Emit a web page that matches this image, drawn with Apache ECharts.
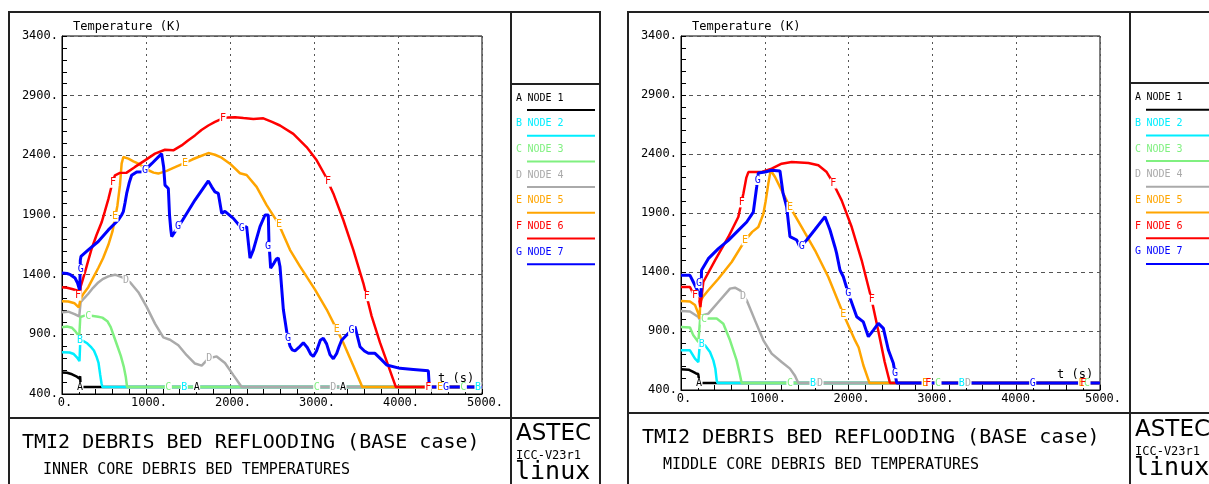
<!DOCTYPE html>
<html>
<head>
<meta charset="utf-8">
<script src="https://cdn.jsdelivr.net/npm/echarts@6/dist/echarts.min.js"></script>
<style>
html, body { margin: 0; padding: 0; background: #fff; }
#chart { width: 1209px; height: 484px; }
</style>
</head>
<body>
<div id="chart"></div>
<script>
// axes
const tMin = 0, tMax = 5000, tStep = 1000;
const tempMin = 400, tempMax = 3400, tempStep = 500;

const nodeLetters = ['A', 'B', 'C', 'D', 'E', 'F', 'G'];
const nodeNames = ['NODE 1', 'NODE 2', 'NODE 3', 'NODE 4', 'NODE 5', 'NODE 6', 'NODE 7'];
const nodeColors = ['#000000', '#00eeff', '#80f080', '#aaaaaa', '#ffa500', '#ff0000', '#0000ff'];

const titleText = 'TMI2 DEBRIS BED REFLOODING (BASE case)';
const subInner = 'INNER CORE DEBRIS BED TEMPERATURES';
const subMiddle = 'MIDDLE CORE DEBRIS BED TEMPERATURES';

// ---- inner core (left plot) ----
const inner1 = [[0,580],[60,578],[120,565],[170,548],[205,530],[212,522],[216,548],[222,458],[5000,458]];
const inner2 = [[0,750],[90,748],[140,735],[180,705],[208,675],[213,665],[218,850],[250,845],[300,825],[350,790],[380,765],[410,715],[435,660],[455,560],[470,490],[482,458],[5000,458]];
const inner3 = [[0,960],[60,965],[120,955],[160,925],[205,880],[213,870],[218,1045],[260,1055],[350,1055],[430,1047],[480,1040],[540,1010],[580,960],[620,880],[660,800],[700,720],[735,630],[760,540],[775,458],[5000,458]];
const inner4 = [[0,1085],[75,1090],[150,1070],[205,1050],[213,1045],[222,1170],[260,1200],[313,1240],[370,1290],[432,1335],[490,1365],[552,1386],[631,1400],[710,1380],[810,1336],[909,1253],[1008,1130],[1107,990],[1206,875],[1286,855],[1385,808],[1484,725],[1583,655],[1663,638],[1742,697],[1841,715],[1940,660],[2040,558],[2139,458],[5000,458]];
const inner5 = [[0,1178],[75,1175],[150,1160],[200,1125],[213,1110],[222,1200],[260,1245],[313,1295],[372,1375],[432,1456],[490,1540],[552,1650],[600,1760],[631,1872],[660,1980],[690,2150],[710,2331],[730,2386],[790,2372],[850,2350],[909,2331],[970,2300],[1028,2275],[1090,2255],[1147,2247],[1246,2270],[1360,2305],[1464,2336],[1550,2365],[1623,2386],[1742,2419],[1821,2405],[1900,2380],[2000,2330],[2119,2250],[2198,2235],[2317,2136],[2436,1983],[2575,1830],[2714,1608],[2833,1469],[3012,1275],[3151,1108],[3270,942],[3349,830],[3468,636],[3575,458],[5000,458]];
const inner6 = [[0,1294],[60,1290],[120,1280],[170,1270],[205,1261],[213,1215],[222,1300],[274,1422],[313,1520],[353,1617],[410,1730],[472,1839],[510,1930],[552,2033],[600,2170],[631,2233],[690,2253],[770,2255],[869,2303],[988,2358],[1107,2414],[1226,2447],[1325,2442],[1424,2483],[1500,2525],[1583,2567],[1660,2612],[1742,2650],[1821,2680],[1901,2706],[1980,2718],[2060,2719],[2160,2712],[2278,2705],[2397,2710],[2500,2680],[2595,2650],[2754,2580],[2912,2469],[3032,2358],[3131,2233],[3230,2081],[3349,1858],[3468,1608],[3587,1330],[3686,1053],[3786,830],[3885,636],[3975,458],[5000,458]];
const inner7 = [[0,1414],[60,1410],[100,1400],[155,1372],[185,1330],[202,1289],[212,1270],[218,1520],[226,1553],[313,1608],[432,1678],[552,1775],[671,1858],[710,1900],[730,1928],[750,2000],[770,2081],[800,2170],[829,2233],[889,2261],[968,2263],[1067,2330],[1186,2414],[1200,2420],[1210,2303],[1226,2150],[1266,2122],[1280,1900],[1295,1780],[1306,1719],[1345,1761],[1424,1844],[1583,2025],[1742,2186],[1782,2136],[1821,2094],[1861,2081],[1901,1914],[1940,1930],[2040,1872],[2139,1789],[2198,1803],[2238,1539],[2278,1608],[2357,1803],[2417,1900],[2456,1900],[2464,1664],[2484,1455],[2524,1497],[2550,1530],[2575,1539],[2595,1469],[2635,1108],[2683,886],[2714,803],[2740,770],[2774,761],[2820,790],[2873,830],[2920,790],[2960,735],[2992,715],[3030,760],[3075,850],[3111,867],[3150,820],[3190,730],[3230,695],[3270,740],[3300,800],[3329,850],[3389,894],[3448,936],[3488,964],[3548,796],[3600,760],[3647,741],[3726,741],[3800,690],[3865,643],[4024,615],[4183,606],[4361,595],[4373,458],[5000,458]];

// letter marks drawn on the inner core curves
const innerMarks1 = [[214,458],[1603,458],[3345,458]];
const innerMarks2 = [[214,852],[1456,458],[4952,458]];
const innerMarks3 = [[313,1053],[1266,458],[3032,458],[4778,458]];
const innerMarks4 = [[762,1349],[1754,702],[3230,458]];
const innerMarks5 = [[631,1886],[1464,2336],[2583,1825],[3270,942],[4500,458]];
const innerMarks6 = [[190,1224],[607,2170],[1917,2710],[3167,2179],[3627,1220],[4360,458]];
const innerMarks7 = [[222,1447],[988,2270],[1381,1802],[2139,1789],[2452,1634],[2690,870],[3448,936],[4571,458]];

// ---- middle core (right plot) ----
const middle1 = [[0,575],[90,572],[140,555],[180,540],[205,535],[215,550],[222,459],[5000,459]];
const middle2 = [[0,736],[107,736],[167,665],[207,637],[215,635],[225,793],[286,779],[346,722],[386,651],[410,580],[426,482],[435,459],[5000,459]];
const middle3 = [[0,934],[107,930],[147,863],[207,807],[217,800],[227,990],[326,1005],[426,1005],[505,962],[585,821],[664,651],[700,540],[724,459],[5000,459]];
const middle4 = [[0,1069],[107,1065],[207,1019],[220,1000],[240,1030],[326,1047],[446,1146],[585,1259],[644,1267],[704,1245],[784,1160],[883,990],[983,821],[1082,708],[1201,637],[1300,581],[1360,520],[1400,459],[5000,459]];
const middle5 = [[0,1154],[107,1150],[167,1120],[207,1047],[222,1005],[230,1150],[260,1188],[326,1245],[446,1343],[605,1485],[764,1668],[850,1740],[923,1781],[960,1850],[983,1894],[1010,2000],[1042,2149],[1070,2262],[1122,2205],[1201,2092],[1300,1951],[1440,1781],[1599,1584],[1758,1358],[1937,1044],[2077,820],[2120,760],[2176,610],[2220,520],[2250,459],[5000,459]];
const middle6 = [[0,1273],[107,1273],[147,1216],[215,1174],[231,1103],[266,1315],[406,1499],[565,1697],[684,1866],[744,2064],[780,2200],[804,2247],[963,2247],[1082,2276],[1201,2318],[1321,2332],[1520,2324],[1639,2304],[1738,2247],[1798,2177],[1917,2007],[2037,1781],[2156,1499],[2275,1165],[2335,965],[2375,830],[2430,640],[2494,459],[5000,459]];
const middle7 = [[0,1372],[107,1372],[147,1315],[215,1216],[239,1188],[245,1414],[326,1513],[446,1598],[565,1668],[684,1753],[784,1824],[863,1908],[903,2120],[923,2239],[1003,2247],[1082,2262],[1181,2256],[1217,2070],[1261,1953],[1300,1700],[1381,1671],[1420,1610],[1440,1615],[1500,1671],[1599,1760],[1718,1869],[1778,1756],[1838,1610],[1857,1558],[1897,1417],[1937,1360],[1997,1219],[2097,1021],[2176,977],[2236,852],[2296,908],[2355,965],[2415,922],[2475,739],[2534,626],[2554,541],[2574,459],[5000,459]];

const middleMarks1 = [[215,459]];
const middleMarks2 = [[247,790],[1575,459],[3350,459]];
const middleMarks3 = [[275,995],[1300,459],[3067,459],[4845,459]];
const middleMarks4 = [[740,1191],[1659,459],[3425,459]];
const middleMarks5 = [[764,1668],[1300,1951],[1937,1044],[2912,459],[4780,459]];
const middleMarks6 = [[167,1200],[724,1990],[1818,2150],[2275,1165],[2950,459],[4800,459]];
const middleMarks7 = [[215,1306],[915,2180],[1440,1615],[1997,1219],[2554,541],[4197,459]];

const innerCurves = [inner1, inner2, inner3, inner4, inner5, inner6, inner7];
const innerMarks = [innerMarks1, innerMarks2, innerMarks3, innerMarks4, innerMarks5, innerMarks6, innerMarks7];
const middleCurves = [middle1, middle2, middle3, middle4, middle5, middle6, middle7];
const middleMarks = [middleMarks1, middleMarks2, middleMarks3, middleMarks4, middleMarks5, middleMarks6, middleMarks7];

const mono = 'DejaVu Sans Mono';

const chart = echarts.init(document.getElementById('chart'), null, { renderer: 'canvas' });

function xAxisOf(gi) {
    return {
        type: 'value', gridIndex: gi, min: tMin, max: tMax, interval: tStep,
        axisLine: { show: true, lineStyle: { color: '#000', width: 1 } },
        axisTick: { show: true, inside: true, length: 5, lineStyle: { color: '#000' } },
        minorTick: { show: true, splitNumber: 5, length: 5, lineStyle: { color: '#000' } },
        axisLabel: { formatter: v => v + '.', color: '#000', fontFamily: mono, fontSize: 12, margin: 3, padding: [0, 0, 0, 6], showMaxLabel: true },
        splitLine: { show: true, lineStyle: { color: '#555', type: [2, 4], width: 1 } }
    };
}

function yAxisOf(gi) {
    return {
        type: 'value', gridIndex: gi, min: tempMin, max: tempMax, interval: tempStep,
        axisLine: { show: true, lineStyle: { color: '#000', width: 1 } },
        axisTick: { show: true, inside: true, length: 5, lineStyle: { color: '#000' } },
        minorTick: { show: true, splitNumber: 5, length: 5, lineStyle: { color: '#000' } },
        axisLabel: { formatter: v => v + '.', color: '#000', fontFamily: mono, fontSize: 12, margin: 4 },
        splitLine: { show: true, lineStyle: { color: '#555', type: [4, 4], width: 1 } }
    };
}

function buildSeries(curves, marks, gi) {
    return curves.map((d, i) => ({
        type: 'line',
        xAxisIndex: gi,
        yAxisIndex: gi,
        data: d,
        symbol: 'none',
        showSymbol: false,
        lineStyle: { color: nodeColors[i], width: i === 6 ? 3 : 2.5 },
        markPoint: {
            silent: true,
            symbol: 'rect',
            symbolSize: [7, 10],
            itemStyle: { color: '#fff', borderWidth: 0 },
            label: {
                show: true, position: 'inside', formatter: nodeLetters[i],
                color: nodeColors[i], fontFamily: mono, fontSize: 10
            },
            data: marks[i].map(c => ({ coord: c }))
        }
    }));
}

// frames, legends, titles
function panelGraphics(p) {
    const g = [];
    g.push({ type: 'rect', shape: { x: p.x0, y: 12, width: p.x1 - p.x0, height: 480 }, style: { fill: 'none', stroke: '#222', lineWidth: 2 } });
    g.push({ type: 'line', shape: { x1: p.sep, y1: 12, x2: p.sep, y2: 490 }, style: { stroke: '#222', lineWidth: 2 } });
    g.push({ type: 'line', shape: { x1: p.x0, y1: p.hy, x2: p.x1, y2: p.hy }, style: { stroke: '#222', lineWidth: 2 } });
    g.push({ type: 'line', shape: { x1: p.sep, y1: p.ly, x2: p.x1, y2: p.ly }, style: { stroke: '#222', lineWidth: 2 } });
    nodeNames.forEach((name, i) => {
        const ty = p.legY + i * 25.7;
        g.push({ type: 'text', style: { x: p.sep + 8, y: ty, text: nodeLetters[i], fill: nodeColors[i], font: '10px "' + mono + '"', textAlign: 'center', textVerticalAlign: 'middle' } });
        g.push({ type: 'text', style: { x: p.sep + 16.5, y: ty, text: name, fill: nodeColors[i], font: '10px "' + mono + '"', textAlign: 'left', textVerticalAlign: 'middle' } });
        g.push({ type: 'line', shape: { x1: p.sep + 16, y1: ty + 12, x2: p.sep + 84, y2: ty + 12 }, style: { stroke: nodeColors[i], lineWidth: 2 } });
    });
    g.push({ type: 'text', style: { x: p.gl + 11, y: 27, text: 'Temperature (K)', fill: '#000', font: '12px "' + mono + '"', textVerticalAlign: 'middle' } });
    g.push({ type: 'text', style: { x: p.tx, y: p.ty, text: 't (s)', fill: '#000', font: '12px "' + mono + '"', textVerticalAlign: 'middle' } });
    g.push({ type: 'text', style: { x: p.x0 + p.titleDx, y: p.titleY, text: titleText, fill: '#000', font: '20px "' + mono + '"', textVerticalAlign: 'middle' } });
    g.push({ type: 'text', style: { x: p.x0 + p.subDx, y: p.subY, text: p.sub, fill: '#000', font: '15px "' + mono + '"', textVerticalAlign: 'middle' } });
    g.push({ type: 'text', style: { x: p.sep + 5, y: p.astY, text: 'ASTEC', fill: '#000', font: '23px "DejaVu Sans"', textVerticalAlign: 'middle' } });
    g.push({ type: 'text', style: { x: p.sep + 5, y: p.astY + 22, text: 'ICC-V23r1', fill: '#000', font: '12px "' + mono + '"', textVerticalAlign: 'middle' } });
    g.push({ type: 'text', style: { x: p.sep + 4, y: p.astY + 38, text: 'linux', fill: '#000', font: '25px "' + mono + '"', textVerticalAlign: 'middle' } });
    return g;
}

const graphics = [].concat(
    panelGraphics({ x0: 9, x1: 600, sep: 511, hy: 418, ly: 84, legY: 98, gl: 62, tx: 438, ty: 379, titleDx: 13, titleY: 443, subDx: 34, subY: 470, sub: subInner, astY: 434 }),
    panelGraphics({ x0: 628, x1: 1300, sep: 1130, hy: 413, ly: 83, legY: 97.7, gl: 681, tx: 1057, ty: 375, titleDx: 14, titleY: 438, subDx: 35, subY: 465, sub: subMiddle, astY: 430 })
);

chart.setOption({
    animation: false,
    backgroundColor: '#fff',
    grid: [
        { left: 62, top: 36, width: 420, height: 358, show: true, borderColor: '#000', borderWidth: 1, containLabel: false },
        { left: 681, top: 36, width: 419, height: 354, show: true, borderColor: '#000', borderWidth: 1, containLabel: false }
    ],
    xAxis: [xAxisOf(0), xAxisOf(1)],
    yAxis: [yAxisOf(0), yAxisOf(1)],
    series: buildSeries(innerCurves, innerMarks, 0).concat(buildSeries(middleCurves, middleMarks, 1)),
    graphic: graphics
});
</script>
</body>
</html>
